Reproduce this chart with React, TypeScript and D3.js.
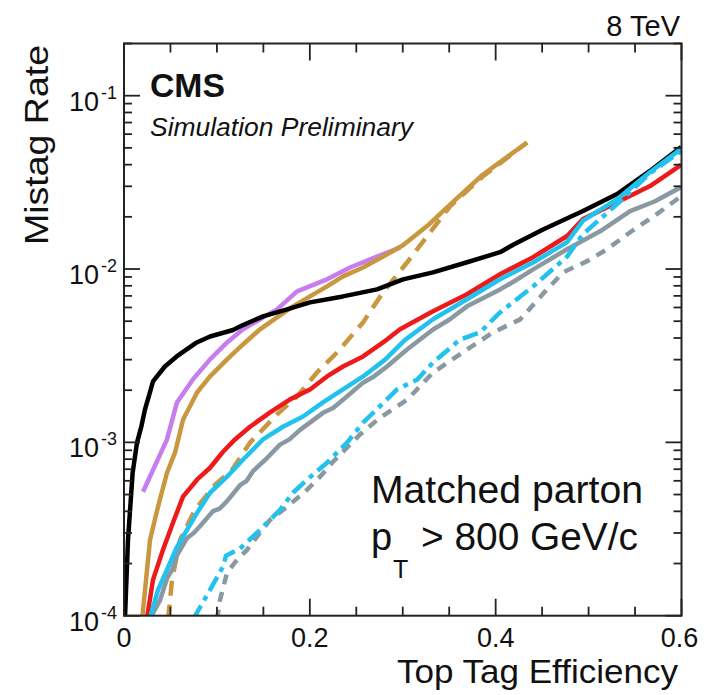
import React from 'react';
import * as d3 from 'd3';

// ---- data (efficiency, mistag rate) ----
const blackEff = [0.0008, 0.0043, 0.0093, 0.014, 0.0189, 0.0226, 0.0286, 0.0312, 0.044, 0.0567, 0.0783, 0.0926, 0.1173, 0.128, 0.1496, 0.1755, 0.2002, 0.2357, 0.2723, 0.3003, 0.3326, 0.3692, 0.4047, 0.4209, 0.451, 0.494, 0.5307, 0.566, 0.5996];
const blackRate = [0.9e-4, 2.74e-4, 6.68e-4, 9.96e-4, 1.25e-3, 1.55e-3, 2.0e-3, 2.25e-3, 2.74e-3, 3.13e-3, 3.77e-3, 4.08e-3, 4.45e-3, 4.75e-3, 5.33e-3, 5.85e-3, 6.42e-3, 6.95e-3, 7.63e-3, 8.72e-3, 9.57e-3, 1.094e-2, 1.25e-2, 1.4e-2, 1.69e-2, 2.16e-2, 2.71e-2, 3.68e-2, 5.05e-2];

const purpleEff = [0.0205, 0.0463, 0.057, 0.0743, 0.0926, 0.1109, 0.128, 0.1464, 0.1647, 0.1862, 0.2185, 0.2433, 0.2723, 0.297];
const purpleRate = [5.19e-4, 1.04e-3, 1.7e-3, 2.31e-3, 3.01e-3, 3.77e-3, 4.49e-3, 5.13e-3, 5.85e-3, 7.43e-3, 8.72e-3, 1.02e-2, 1.18e-2, 1.33e-2];

const goldEff = [0.0195, 0.028, 0.0366, 0.0463, 0.0549, 0.0635, 0.0786, 0.0926, 0.1109, 0.128, 0.1464, 0.1647, 0.1819, 0.2002, 0.2185, 0.2357, 0.2573, 0.2788, 0.3003, 0.3262, 0.3509, 0.3864, 0.4338];
const goldRate = [0.95e-4, 2.74e-4, 4.25e-4, 6.68e-4, 8.72e-4, 1.35e-3, 1.94e-3, 2.4e-3, 3.01e-3, 3.67e-3, 4.49e-3, 5.26e-3, 6.09e-3, 6.95e-3, 7.94e-3, 9.07e-3, 1.02e-2, 1.18e-2, 1.37e-2, 1.77e-2, 2.35e-2, 3.51e-2, 5.37e-2];

const goldDashEff = [0.0474, 0.0517, 0.0603, 0.0764, 0.098, 0.1163, 0.1356, 0.1647, 0.1862, 0.2077, 0.2293, 0.2573, 0.2788, 0.3046, 0.3154, 0.3509, 0.3864, 0.4338];
const goldDashRate = [0.95e-4, 1.61e-4, 2.74e-4, 4.09e-4, 5.69e-4, 6.95e-4, 9.96e-4, 1.45e-3, 1.84e-3, 2.53e-3, 3.3e-3, 4.92e-3, 7.33e-3, 1.09e-2, 1.3e-2, 2.3e-2, 3.43e-2, 5.37e-2];

const redEff = [0.0245, 0.0312, 0.042, 0.0527, 0.0635, 0.0786, 0.0926, 0.1066, 0.1195, 0.1356, 0.1572, 0.1787, 0.2002, 0.2185, 0.2357, 0.2573, 0.2788, 0.2971, 0.3326, 0.3692, 0.4047, 0.4403, 0.4769, 0.494, 0.5307, 0.5662, 0.5996];
const redRate = [0.95e-4, 1.61e-4, 2.4e-4, 3.44e-4, 4.86e-4, 6.09e-4, 7.14e-4, 8.83e-4, 1.04e-3, 1.23e-3, 1.49e-3, 1.77e-3, 2.02e-3, 2.4e-3, 2.74e-3, 3.13e-3, 3.77e-3, 4.49e-3, 5.7e-3, 7.15e-3, 9.33e-3, 1.17e-2, 1.55e-2, 1.94e-2, 2.43e-2, 3.01e-2, 3.99e-2];

const cyanEff = [0.0275, 0.0366, 0.0463, 0.057, 0.0678, 0.0786, 0.0926, 0.1109, 0.128, 0.1496, 0.1711, 0.1927, 0.2142, 0.2357, 0.2573, 0.281, 0.3025, 0.3326, 0.3692, 0.4047, 0.4403, 0.4769, 0.494, 0.5307, 0.5662, 0.5996];
const cyanRate = [0.95e-4, 1.41e-4, 1.84e-4, 2.49e-4, 3.13e-4, 3.92e-4, 5.12e-4, 6.34e-4, 7.94e-4, 1.04e-3, 1.23e-3, 1.41e-3, 1.7e-3, 2.02e-3, 2.4e-3, 3.0e-3, 3.9e-3, 5.13e-3, 6.69e-3, 8.73e-3, 1.09e-2, 1.43e-2, 1.9e-2, 2.53e-2, 3.63e-2, 4.93e-2];

const grayEff = [0.0275, 0.0388, 0.0463, 0.052, 0.057, 0.0678, 0.075, 0.0818, 0.0958, 0.103, 0.1109, 0.1249, 0.132, 0.1389, 0.1539, 0.1679, 0.178, 0.1895, 0.2142, 0.225, 0.2357, 0.2573, 0.268, 0.2831, 0.3046, 0.3326, 0.35, 0.3692, 0.4047, 0.42, 0.4403, 0.4769, 0.5124, 0.5447, 0.5716, 0.5996];
const grayRate = [0.95e-4, 1.23e-4, 1.64e-4, 1.85e-4, 2.23e-4, 2.8e-4, 3.0e-4, 3.28e-4, 4.01e-4, 4.15e-4, 4.58e-4, 5.66e-4, 6.0e-4, 6.83e-4, 8.12e-4, 9.7e-4, 1.04e-3, 1.18e-3, 1.48e-3, 1.58e-3, 1.76e-3, 2.21e-3, 2.38e-3, 2.74e-3, 3.43e-3, 4.48e-3, 5.1e-3, 6.09e-3, 7.63e-3, 8.5e-3, 9.96e-3, 1.3e-2, 1.65e-2, 2.16e-2, 2.46e-2, 2.97e-2];

const cyanDashEff = [0.0743, 0.0926, 0.1066, 0.1098, 0.1249, 0.1432, 0.1539, 0.1679, 0.1819, 0.197, 0.2185, 0.24, 0.2573, 0.2939, 0.3154, 0.3326, 0.3617, 0.3832, 0.4047, 0.4403, 0.4769, 0.494, 0.5307, 0.5662, 0.5996];
const cyanDashRate = [0.95e-4, 1.41e-4, 1.92e-4, 2.22e-4, 2.44e-4, 3.01e-4, 3.43e-4, 4.08e-4, 5.12e-4, 6.09e-4, 7.63e-4, 9.96e-4, 1.3e-3, 2.02e-3, 2.3e-3, 2.89e-3, 3.92e-3, 4.31e-3, 5.62e-3, 7.94e-3, 1.18e-2, 1.59e-2, 2.37e-2, 3.57e-2, 4.79e-2];

const grayDashEff = [0.1001, 0.1033, 0.1109, 0.1216, 0.1324, 0.1464, 0.1572, 0.1755, 0.197, 0.211, 0.225, 0.254, 0.2756, 0.3046, 0.3326, 0.3692, 0.3972, 0.4263, 0.4553, 0.4726, 0.4984, 0.5199, 0.5447, 0.5716, 0.5996];
const grayDashRate = [0.95e-4, 1.23e-4, 1.77e-4, 2.1e-4, 2.4e-4, 3.01e-4, 3.57e-4, 4.25e-4, 5.33e-4, 6.34e-4, 7.73e-4, 1.11e-3, 1.39e-3, 1.76e-3, 2.53e-3, 3.43e-3, 4.31e-3, 5.12e-3, 7.63e-3, 9.57e-3, 1.11e-2, 1.3e-2, 1.63e-2, 2.04e-2, 2.63e-2];

const xTickLabels = [0, 0.2, 0.4, 0.6];
const yDecades = [-4, -3, -2, -1];

type Series = { eff: number[]; rate: number[]; color: string; dash?: string; width: number };

// drawing order (later on top)
const seriesList: Series[] = [
  { eff: purpleEff, rate: purpleRate, color: '#c77df0', width: 4.5 },
  { eff: goldDashEff, rate: goldDashRate, color: '#c9973f', dash: '15 9', width: 4.5 },
  { eff: goldEff, rate: goldRate, color: '#c9973f', width: 4.5 },
  { eff: blackEff, rate: blackRate, color: '#000000', width: 4.5 },
  { eff: redEff, rate: redRate, color: '#ee1a1a', width: 4.5 },
  { eff: grayDashEff, rate: grayDashRate, color: '#8a98a2', dash: '10 8', width: 4.5 },
  { eff: grayEff, rate: grayRate, color: '#8a98a2', width: 4.5 },
  { eff: cyanDashEff, rate: cyanDashRate, color: '#22c2ee', dash: '16 6 5 6', width: 4.5 },
  { eff: cyanEff, rate: cyanRate, color: '#22c2ee', width: 4.5 },
];

const W = 705;
const H = 695;
const L = 124;
const R = 681.5;
const T = 43.5;
const B = 615.7;

export default function App() {
  const x = d3.scaleLinear().domain([0, 0.6]).range([L, R]);
  const y = d3.scaleLog().domain([1e-4, 0.2]).range([B, T]);
  const font = '"Liberation Sans", Arial, Helvetica, sans-serif';

  const xTicks = x.ticks(12);
  const yTicks = y.ticks();

  const isMajorX = (v: number) => xTickLabels.some((t) => Math.abs(t - v) < 1e-6);
  const isMajorY = (v: number) => Math.abs(Math.log10(v) - Math.round(Math.log10(v))) < 1e-6;

  return (
    <svg width={W} height={H} style={{ position: 'absolute', left: 0, top: 0, background: '#fff' }}>
      <defs>
        <clipPath id="plotclip">
          <rect x={L} y={T} width={R - L} height={B - T} />
        </clipPath>
      </defs>
      <rect x={0} y={0} width={W} height={H} fill="#fff" />
      <g clipPath="url(#plotclip)">
        {seriesList.map((s, i) => {
          const pts = s.eff.map((e, j) => [e, s.rate[j]] as [number, number]);
          const line = d3
            .line<[number, number]>()
            .x((d) => x(d[0]))
            .y((d) => y(d[1]));
          return (
            <path
              key={i}
              d={line(pts) || ''}
              fill="none"
              stroke={s.color}
              strokeWidth={s.width}
              strokeDasharray={s.dash}
              strokeLinejoin="round"
            />
          );
        })}
      </g>
      {/* frame */}
      <rect x={L} y={T} width={R - L} height={B - T} fill="none" stroke="#222" strokeWidth={2} />
      {/* x ticks */}
      {xTicks.map((v, i) => {
        const len = isMajorX(v) ? 17 : 9;
        return (
          <g key={'xt' + i}>
            <line x1={x(v)} x2={x(v)} y1={B} y2={B - len} stroke="#222" strokeWidth={1.8} />
            <line x1={x(v)} x2={x(v)} y1={T} y2={T + len} stroke="#222" strokeWidth={1.8} />
          </g>
        );
      })}
      {/* y ticks */}
      {yTicks.map((v, i) => {
        const len = isMajorY(v) ? 16 : 8;
        return (
          <g key={'yt' + i}>
            <line x1={L} x2={L + len} y1={y(v)} y2={y(v)} stroke="#222" strokeWidth={1.8} />
            <line x1={R} x2={R - len} y1={y(v)} y2={y(v)} stroke="#222" strokeWidth={1.8} />
          </g>
        );
      })}
      {/* x tick labels */}
      {xTickLabels.map((v) => (
        <text key={'xl' + v} x={x(v) - (v === 0.6 ? 2 : 0)} y={647} fontFamily={font} fontSize={27} textAnchor="middle" fill="#111">
          {v === 0 ? '0' : String(v)}
        </text>
      ))}
      {/* y tick labels */}
      {yDecades.map((d) => {
        const ty = y(Math.pow(10, d));
        return (
          <g key={'yl' + d}>
            <text x={99} y={ty + 15} fontFamily={font} fontSize={27} textAnchor="end" fill="#111">
              10
            </text>
            <text x={117} y={ty + 3} fontFamily={font} fontSize={18} textAnchor="end" fill="#111">
              {'-' + Math.abs(d)}
            </text>
          </g>
        );
      })}
      {/* axis titles */}
      <text x={397} y={683} fontFamily={font} fontSize={34} textLength={281} lengthAdjust="spacingAndGlyphs" fill="#111">
        Top Tag Efficiency
      </text>
      <text
        transform="translate(48,45) rotate(-90)"
        fontFamily={font}
        fontSize={34}
        textAnchor="end"
        textLength={200}
        lengthAdjust="spacingAndGlyphs"
        fill="#111"
      >
        Mistag Rate
      </text>
      <text x={680} y={36} fontFamily={font} fontSize={29} textAnchor="end" fill="#111">
        8 TeV
      </text>
      <text x={150} y={97} fontFamily={font} fontSize={34} fontWeight="bold" textLength={75} lengthAdjust="spacingAndGlyphs" fill="#111">
        CMS
      </text>
      <text x={150} y={136} fontFamily={font} fontSize={25} fontStyle="italic" textLength={263} lengthAdjust="spacingAndGlyphs" fill="#111">
        Simulation Preliminary
      </text>
      <text x={371} y={503} fontFamily={font} fontSize={38} textLength={272} lengthAdjust="spacingAndGlyphs" fill="#111">
        Matched parton
      </text>
      <text x={371} y={550} fontFamily={font} fontSize={38} fill="#111">
        p
      </text>
      <text x={393} y={578} fontFamily={font} fontSize={25} fill="#111">
        T
      </text>
      <text x={421} y={550} fontFamily={font} fontSize={38} textLength={217} lengthAdjust="spacingAndGlyphs" fill="#111">
        {'> 800 GeV/c'}
      </text>
    </svg>
  );
}
